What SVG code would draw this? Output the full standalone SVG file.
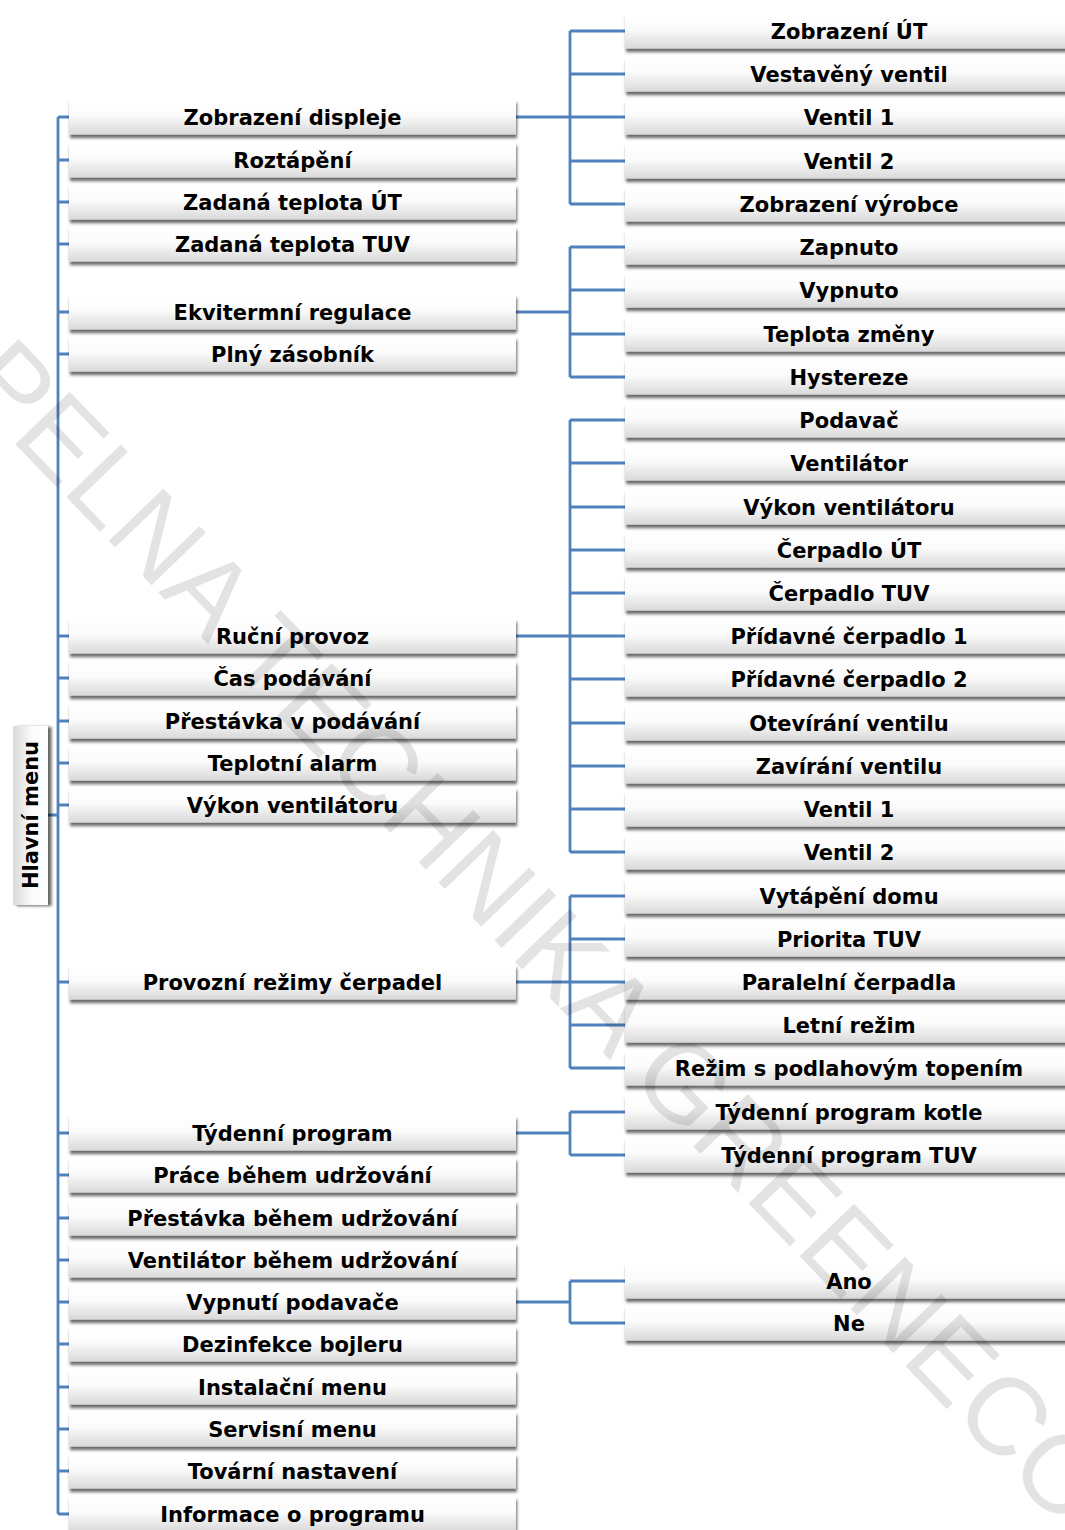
<svg xmlns="http://www.w3.org/2000/svg" width="1065" height="1530" viewBox="0 0 1065 1530">
<defs>
<linearGradient id="gb" x1="0" y1="0" x2="0" y2="1">
<stop offset="0" stop-color="#ffffff"/>
<stop offset="0.45" stop-color="#fbfbfb"/>
<stop offset="1" stop-color="#d9d9d9"/>
</linearGradient>
<linearGradient id="gr" x1="1" y1="0" x2="0" y2="0">
<stop offset="0" stop-color="#ffffff"/>
<stop offset="0.45" stop-color="#fbfbfb"/>
<stop offset="1" stop-color="#d9d9d9"/>
</linearGradient>
<filter id="sh" x="-10%" y="-30%" width="120%" height="170%">
<feDropShadow dx="1" dy="3.5" stdDeviation="1.8" flood-color="#000" flood-opacity="0.6"/>
</filter>
<filter id="shr" x="-40%" y="-10%" width="180%" height="120%">
<feDropShadow dx="3.5" dy="1" stdDeviation="1.8" flood-color="#000" flood-opacity="0.6"/>
</filter>
</defs>
<style>
.b{fill:url(#gb);filter:url(#sh)}
.t{font-family:"DejaVu Sans","Verdana",sans-serif;font-weight:bold;font-size:21px;fill:#000;text-anchor:middle}
.c{fill:none;stroke:#4f81bd;stroke-width:2.8}
.wm{font-family:"Liberation Sans",Arial,sans-serif;font-size:110px;fill:#000;fill-opacity:0.11}
</style>
<rect width="1065" height="1530" fill="#fff"/>
<g id="connectors" class="c">
<path d="M48,815H58M58,117V1514"/>
<path d="M58,117H69M58,160H69M58,202H69M58,244H69M58,312H69M58,354H69M58,636H69M58,678H69M58,721H69M58,763H69M58,805H69M58,982H69M58,1133H69M58,1175H69M58,1218H69M58,1260H69M58,1302H69M58,1344H69M58,1387H69M58,1429H69M58,1471H69M58,1514H69"/>
<path d="M516,117H570M570,31V204M570,31H625M570,74H625M570,117H625M570,161H625M570,204H625"/>
<path d="M516,312H570M570,247V377M570,247H625M570,290H625M570,334H625M570,377H625"/>
<path d="M516,636H570M570,420V852M570,420H625M570,463H625M570,507H625M570,550H625M570,593H625M570,636H625M570,679H625M570,723H625M570,766H625M570,809H625M570,852H625"/>
<path d="M516,982H570M570,896V1068M570,896H625M570,939H625M570,982H625M570,1025H625M570,1068H625"/>
<path d="M516,1133H570M570,1112V1155M570,1112H625M570,1155H625"/>
<path d="M516,1302H570M570,1281V1323M570,1281H625M570,1323H625"/>
</g>
<g id="root">
<rect x="13" y="726" width="35" height="179" fill="url(#gr)" filter="url(#shr)"/>
<text class="t" transform="translate(37.5,815) rotate(-90)" x="0" y="0">Hlavní  menu</text>
</g>
<g id="L1"><rect class="b" x="69" y="99.5" width="447" height="35"/><text class="t" x="292.5" y="124.5">Zobrazení displeje</text></g>
<g id="L2"><rect class="b" x="69" y="142.5" width="447" height="35"/><text class="t" x="292.5" y="167.5">Roztápění</text></g>
<g id="L3"><rect class="b" x="69" y="184.5" width="447" height="35"/><text class="t" x="292.5" y="209.5">Zadaná teplota ÚT</text></g>
<g id="L4"><rect class="b" x="69" y="226.5" width="447" height="35"/><text class="t" x="292.5" y="251.5">Zadaná teplota TUV</text></g>
<g id="L5"><rect class="b" x="69" y="294.5" width="447" height="35"/><text class="t" x="292.5" y="319.5">Ekvitermní regulace</text></g>
<g id="L6"><rect class="b" x="69" y="336.5" width="447" height="35"/><text class="t" x="292.5" y="361.5">Plný zásobník</text></g>
<g id="L7"><rect class="b" x="69" y="618.5" width="447" height="35"/><text class="t" x="292.5" y="643.5">Ruční provoz</text></g>
<g id="L8"><rect class="b" x="69" y="660.5" width="447" height="35"/><text class="t" x="292.5" y="685.5">Čas podávání</text></g>
<g id="L9"><rect class="b" x="69" y="703.5" width="447" height="35"/><text class="t" x="292.5" y="728.5">Přestávka v podávání</text></g>
<g id="L10"><rect class="b" x="69" y="745.5" width="447" height="35"/><text class="t" x="292.5" y="770.5">Teplotní alarm</text></g>
<g id="L11"><rect class="b" x="69" y="787.5" width="447" height="35"/><text class="t" x="292.5" y="812.5">Výkon ventilátoru</text></g>
<g id="L12"><rect class="b" x="69" y="964.5" width="447" height="35"/><text class="t" x="292.5" y="989.5">Provozní režimy čerpadel</text></g>
<g id="L13"><rect class="b" x="69" y="1115.5" width="447" height="35"/><text class="t" x="292.5" y="1140.5">Týdenní program</text></g>
<g id="L14"><rect class="b" x="69" y="1157.5" width="447" height="35"/><text class="t" x="292.5" y="1182.5">Práce během udržování</text></g>
<g id="L15"><rect class="b" x="69" y="1200.5" width="447" height="35"/><text class="t" x="292.5" y="1225.5">Přestávka během udržování</text></g>
<g id="L16"><rect class="b" x="69" y="1242.5" width="447" height="35"/><text class="t" x="292.5" y="1267.5">Ventilátor během udržování</text></g>
<g id="L17"><rect class="b" x="69" y="1284.5" width="447" height="35"/><text class="t" x="292.5" y="1309.5">Vypnutí podavače</text></g>
<g id="L18"><rect class="b" x="69" y="1326.5" width="447" height="35"/><text class="t" x="292.5" y="1351.5">Dezinfekce bojleru</text></g>
<g id="L19"><rect class="b" x="69" y="1369.5" width="447" height="35"/><text class="t" x="292.5" y="1394.5">Instalační menu</text></g>
<g id="L20"><rect class="b" x="69" y="1411.5" width="447" height="35"/><text class="t" x="292.5" y="1436.5">Servisní menu</text></g>
<g id="L21"><rect class="b" x="69" y="1453.5" width="447" height="35"/><text class="t" x="292.5" y="1478.5">Tovární nastavení</text></g>
<g id="L22"><rect class="b" x="69" y="1496.5" width="447" height="35"/><text class="t" x="292.5" y="1521.5">Informace o programu</text></g>
<g id="R1"><rect class="b" x="625" y="13.5" width="448" height="35"/><text class="t" x="849" y="38.5">Zobrazení ÚT</text></g>
<g id="R2"><rect class="b" x="625" y="56.5" width="448" height="35"/><text class="t" x="849" y="81.5">Vestavěný ventil</text></g>
<g id="R3"><rect class="b" x="625" y="99.5" width="448" height="35"/><text class="t" x="849" y="124.5">Ventil 1</text></g>
<g id="R4"><rect class="b" x="625" y="143.5" width="448" height="35"/><text class="t" x="849" y="168.5">Ventil 2</text></g>
<g id="R5"><rect class="b" x="625" y="186.5" width="448" height="35"/><text class="t" x="849" y="211.5">Zobrazení výrobce</text></g>
<g id="R6"><rect class="b" x="625" y="229.5" width="448" height="35"/><text class="t" x="849" y="254.5">Zapnuto</text></g>
<g id="R7"><rect class="b" x="625" y="272.5" width="448" height="35"/><text class="t" x="849" y="297.5">Vypnuto</text></g>
<g id="R8"><rect class="b" x="625" y="316.5" width="448" height="35"/><text class="t" x="849" y="341.5">Teplota změny</text></g>
<g id="R9"><rect class="b" x="625" y="359.5" width="448" height="35"/><text class="t" x="849" y="384.5">Hystereze</text></g>
<g id="R10"><rect class="b" x="625" y="402.5" width="448" height="35"/><text class="t" x="849" y="427.5">Podavač</text></g>
<g id="R11"><rect class="b" x="625" y="445.5" width="448" height="35"/><text class="t" x="849" y="470.5">Ventilátor</text></g>
<g id="R12"><rect class="b" x="625" y="489.5" width="448" height="35"/><text class="t" x="849" y="514.5">Výkon ventilátoru</text></g>
<g id="R13"><rect class="b" x="625" y="532.5" width="448" height="35"/><text class="t" x="849" y="557.5">Čerpadlo ÚT</text></g>
<g id="R14"><rect class="b" x="625" y="575.5" width="448" height="35"/><text class="t" x="849" y="600.5">Čerpadlo TUV</text></g>
<g id="R15"><rect class="b" x="625" y="618.5" width="448" height="35"/><text class="t" x="849" y="643.5">Přídavné čerpadlo 1</text></g>
<g id="R16"><rect class="b" x="625" y="661.5" width="448" height="35"/><text class="t" x="849" y="686.5">Přídavné čerpadlo 2</text></g>
<g id="R17"><rect class="b" x="625" y="705.5" width="448" height="35"/><text class="t" x="849" y="730.5">Otevírání ventilu</text></g>
<g id="R18"><rect class="b" x="625" y="748.5" width="448" height="35"/><text class="t" x="849" y="773.5">Zavírání ventilu</text></g>
<g id="R19"><rect class="b" x="625" y="791.5" width="448" height="35"/><text class="t" x="849" y="816.5">Ventil 1</text></g>
<g id="R20"><rect class="b" x="625" y="834.5" width="448" height="35"/><text class="t" x="849" y="859.5">Ventil 2</text></g>
<g id="R21"><rect class="b" x="625" y="878.5" width="448" height="35"/><text class="t" x="849" y="903.5">Vytápění domu</text></g>
<g id="R22"><rect class="b" x="625" y="921.5" width="448" height="35"/><text class="t" x="849" y="946.5">Priorita TUV</text></g>
<g id="R23"><rect class="b" x="625" y="964.5" width="448" height="35"/><text class="t" x="849" y="989.5">Paralelní čerpadla</text></g>
<g id="R24"><rect class="b" x="625" y="1007.5" width="448" height="35"/><text class="t" x="849" y="1032.5">Letní režim</text></g>
<g id="R25"><rect class="b" x="625" y="1050.5" width="448" height="35"/><text class="t" x="849" y="1075.5">Režim s podlahovým topením</text></g>
<g id="R26"><rect class="b" x="625" y="1094.5" width="448" height="35"/><text class="t" x="849" y="1119.5">Týdenní program kotle</text></g>
<g id="R27"><rect class="b" x="625" y="1137.5" width="448" height="35"/><text class="t" x="849" y="1162.5">Týdenní program TUV</text></g>
<g id="R28"><rect class="b" x="625" y="1263.5" width="448" height="35"/><text class="t" x="849" y="1288.5">Ano</text></g>
<g id="R29"><rect class="b" x="625" y="1305.5" width="448" height="35"/><text class="t" x="849" y="1330.5">Ne</text></g>
<text class="wm" transform="translate(-42,385) rotate(46)">PELNA TECHNIKA GREENECO</text>
</svg>
